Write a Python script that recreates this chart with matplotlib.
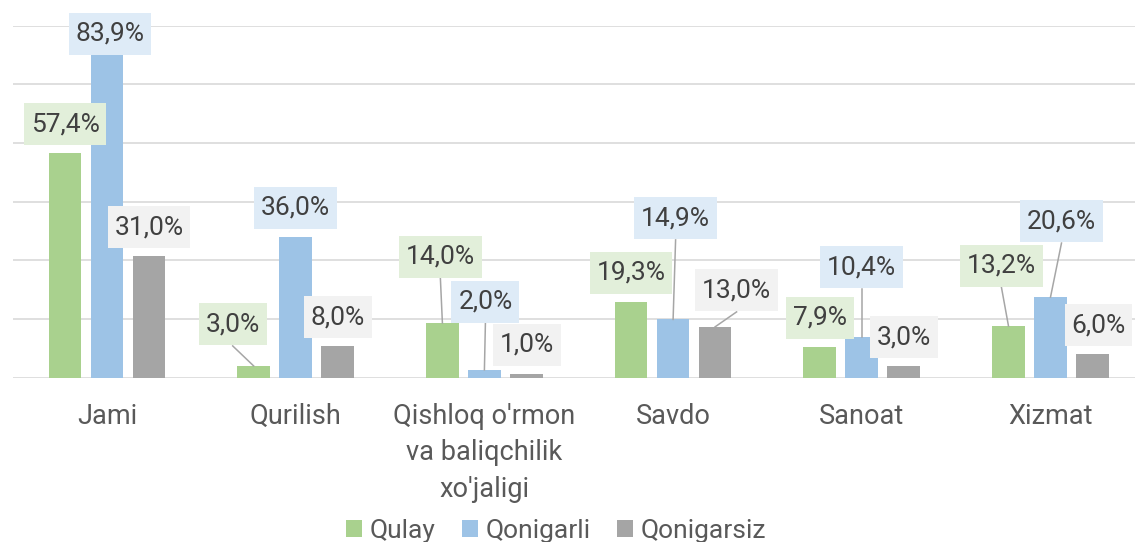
import matplotlib
matplotlib.use('Agg')
import matplotlib.pyplot as plt
import numpy as np
from matplotlib.patches import Patch
from matplotlib.path import Path

plt.rcParams['font.family'] = ['Roboto', 'DejaVu Sans']

# data
categories = ['Jami', 'Qurilish', "Qishloq o'rmon\nva baliqchilik\nxo'jaligi",
              'Savdo', 'Sanoat', 'Xizmat']
series = ['Qulay', 'Qonigarli', 'Qonigarsiz']
qulay = [57.4, 3.0, 14.0, 19.3, 7.9, 13.2]
qonigarli = [83.9, 36.0, 2.0, 14.9, 10.4, 20.6]
qonigarsiz = [31.0, 8.0, 1.0, 13.0, 3.0, 6.0]

bar_colors = ['#A9D18E', '#9DC3E6', '#A5A5A5']
box_colors = ['#E2EFDA', '#DEEBF7', '#F2F2F2']

# label placement: horizontal shift (px) and label centre height (%)
label_dx = [[0, -21, -2, 0, 0, -7],
            [3, 0, 1, 2.5, 0, 11],
            [0, 0, 1, 21.5, 0, 6]]
label_y = [[64.8, 13.7, 30.9, 26.8, 15.3, 28.6],
           [87.9, 43.4, 19.4, 40.8, 28.3, 40.0],
           [38.5, 15.5, 8.4, 22.4, 10.4, 13.4]]


def label_box(x0, y0, width, height, mutation_size):
    # Excel-like label box: less padding at the sides than above/below
    px = 0.26 * mutation_size
    py = 0.34 * mutation_size
    x0, y0 = x0 - px, y0 - py
    x1, y1 = x0 + width + 2 * px, y0 + height + 2 * py
    return Path([(x0, y0), (x1, y0), (x1, y1), (x0, y1), (x0, y0)], closed=True)


W, H = 1135, 542
fig = plt.figure(figsize=(W / 100, H / 100), dpi=100)
cat_px = 188.7
plot_h = 352.0
ax = fig.add_axes([12.65 / W, (H - 377.7) / H, 6 * cat_px / W, plot_h / H])
ax.set_xlim(-0.5, 5.5)
ax.set_ylim(0, 90)
ax.axis('off')

ypx = 90 / plot_h  # % per pixel

for g in range(0, 91, 15):
    ax.axhline(g, color='#D9D9D9', lw=1.2, zorder=1)

x = np.arange(len(categories))
pitch = 42 / cat_px
width = 32.7 / cat_px
text_c = '#404040'
fs = 19

for j, vals in enumerate([qulay, qonigarli, qonigarsiz]):
    xb = x + (j - 1) * pitch
    ax.bar(xb, vals, width=width, color=bar_colors[j], zorder=2)
    for i, v in enumerate(vals):
        lx = xb[i] + label_dx[j][i] / cat_px
        ly = label_y[j][i]
        ax.text(lx, ly, f'{v:.1f}'.replace('.', ',') + '%', ha='center', va='center',
                fontsize=fs, color=text_c, zorder=5, clip_on=False,
                bbox=dict(boxstyle=label_box, fc=box_colors[j], ec='none'))
        bottom = ly - 21.8 * ypx
        if bottom - v > 10 * ypx:
            ax.plot([lx, xb[i]], [bottom, v], color='#A6A6A6', lw=1.1, zorder=3)

# category labels
for i, c in enumerate(categories):
    ax.text(x[i], -25 * ypx, c, ha='center', va='top', fontsize=19.5,
            color='#595959', linespacing=1.45, clip_on=False)

handles = [Patch(facecolor=c, edgecolor='none') for c in bar_colors]
fig.legend(handles, series, loc='center', bbox_to_anchor=(556 / W, 1 - 531 / H),
           ncol=3, frameon=False, fontsize=19, handlelength=0.6, handleheight=0.6,
           handletextpad=0.3, columnspacing=1.0, labelcolor='#595959',
           borderpad=0, borderaxespad=0)

fig.savefig('out.png', dpi=100)
